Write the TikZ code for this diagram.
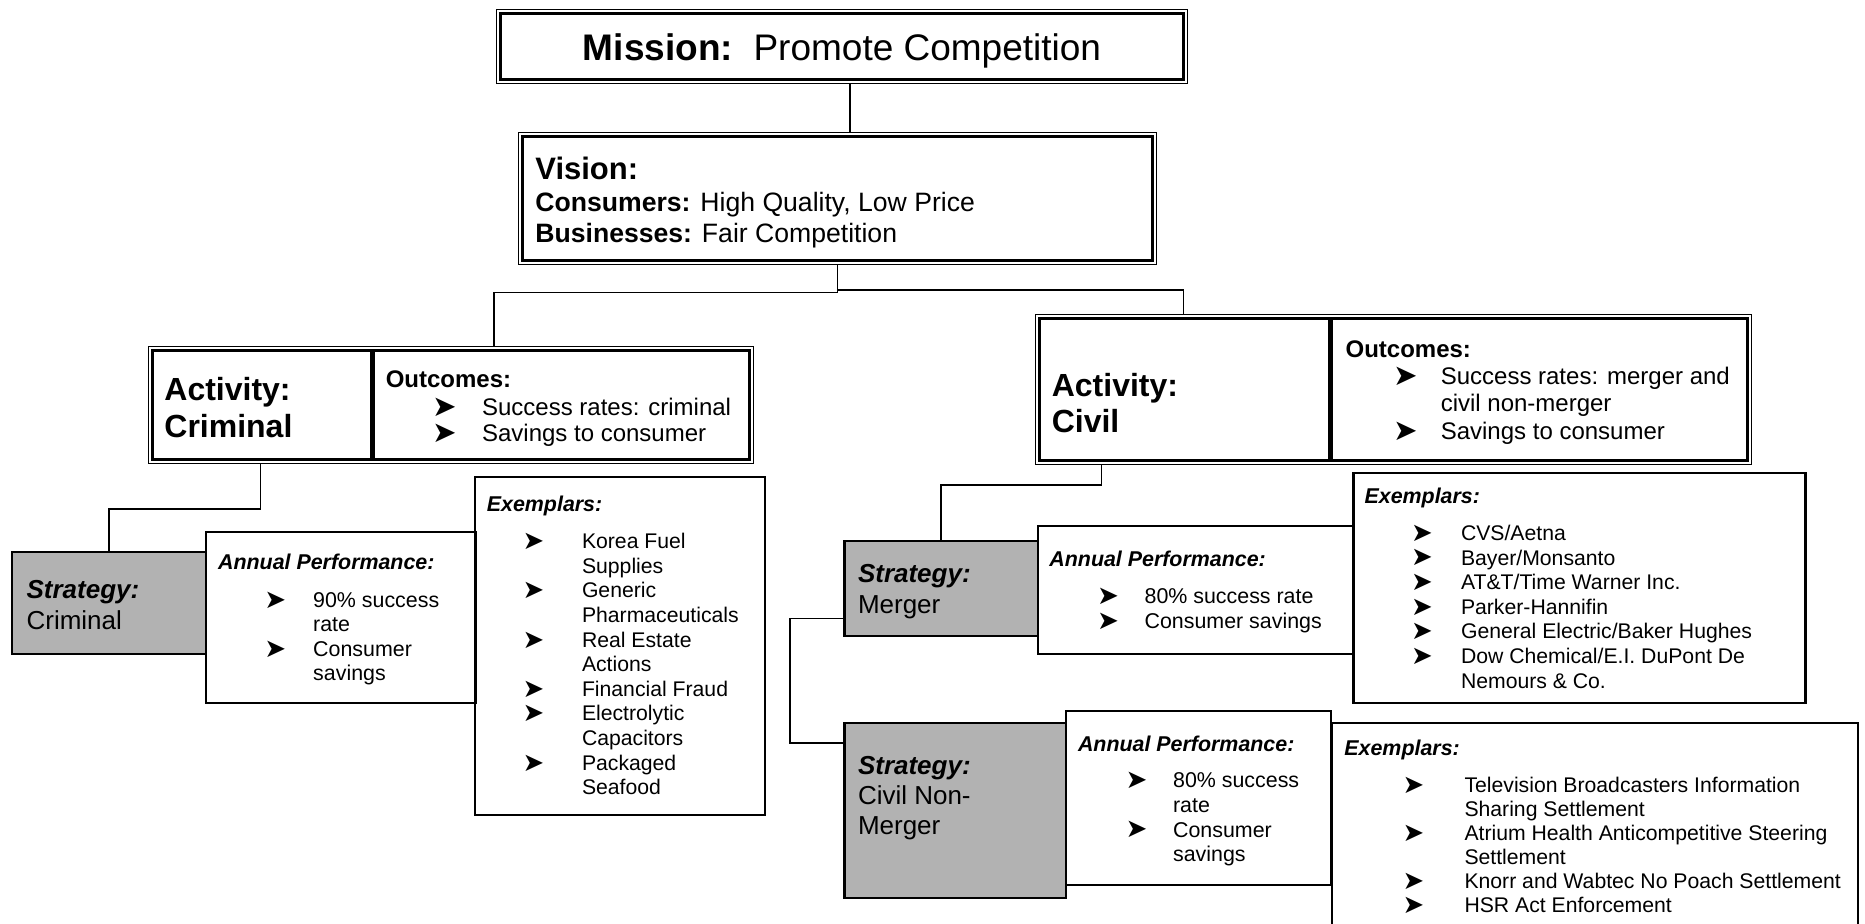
\documentclass[tikz,border=0pt]{standalone}
\usepackage{fontspec}
\usepackage{graphicx}
\setmainfont{Liberation Sans}
\newfontfamily\dvs{DejaVu Sans}
\usetikzlibrary{fit,calc}
\definecolor{stratgray}{RGB}{178,178,178}
\newcommand\fs[2]{\fontsize{#1}{#2}\selectfont}
\newcommand\bul[1]{\leavevmode\llap{\makebox[#1][l]{\raisebox{-0.04em}{\scalebox{1.22}{\dvs ➤}}}}}
\tikzset{
  cell/.style={inner sep=0pt},
  simplebox/.style={draw, line width=1.1pt, inner sep=0pt},
  stratbox/.style={draw, fill=stratgray, line width=1.1pt, inner sep=0pt},
  thinout/.style={line width=0.5pt},
  thickin/.style={line width=1.8pt},
  sepline/.style={line width=2.4pt},
  conn/.style={line width=0.9pt},
  txt/.style={anchor=base west, inner sep=0pt},
}
\begin{document}
\begin{tikzpicture}[x=0.5pt,y=-0.5pt]
\useasboundingbox (0,0) rectangle (1865,924);
\clip (0,0) rectangle (1865,924);

% ---------- boxes ----------
\node[cell, fit={(497,10) (1187,83)}] (mission) {};
\draw[thinout] (mission.north west) rectangle (mission.south east);
\draw[thickin] ($(mission.north west)+(4,4)$) rectangle ($(mission.south east)+(-4,-4)$);

\node[cell, fit={(519,133) (1156,264)}] (vision) {};
\draw[thinout] (vision.north west) rectangle (vision.south east);
\draw[thickin] ($(vision.north west)+(4,4)$) rectangle ($(vision.south east)+(-4,-4)$);

\node[cell, fit={(149,347) (372,463)}] (actcrim) {};
\node[cell, fit={(372,347) (753,463)}] (outcrim) {};
\draw[thinout] (actcrim.north west) rectangle (outcrim.south east);
\draw[thickin] ($(actcrim.north west)+(4,4)$) rectangle ($(outcrim.south east)+(-4,-4)$);
\draw[sepline] ($(actcrim.north east)+(0,4)$) -- ($(actcrim.south east)+(0,-4)$);

\node[cell, fit={(1036,315) (1330,464)}] (actcivil) {};
\node[cell, fit={(1330,315) (1751,464)}] (outcivil) {};
\draw[thinout] (actcivil.north west) rectangle (outcivil.south east);
\draw[thickin] ($(actcivil.north west)+(4,4)$) rectangle ($(outcivil.south east)+(-4,-4)$);
\draw[sepline] ($(actcivil.north east)+(0,4)$) -- ($(actcivil.south east)+(0,-4)$);

\node[stratbox, fit={(12,552) (206,654)}] (stratcrim) {};
\node[simplebox, fit={(206,532) (476,703)}] (apcrim) {};
\node[simplebox, fit={(475,477) (765,815)}] (excrim) {};

\node[stratbox, fit={(844.5,541) (1038,636)}] (stratmerger) {};
\node[simplebox, fit={(1038,526) (1353.5,654)}] (apmerger) {};
\node[simplebox, fit={(1353.5,473) (1805.5,703)}] (exmerger) {};

\node[stratbox, fit={(844.5,723) (1066,898)}] (stratcnm) {};
\node[simplebox, fit={(1066,711) (1331,885)}] (apcnm) {};
\node[simplebox, fit={(1332,723) (1858,960)}] (excnm) {};

% ---------- connectors ----------
\coordinate (m1) at (850,0);
\draw[conn] (mission.south -| m1) -- (vision.north -| m1);
\coordinate (jl) at (494,292.6);
\coordinate (jr) at (1183.5,290.2);
\draw[conn] (vision.south) -- (vision.south |- jl) -- (jl) -- (outcrim.north -| jl);
\draw[conn] (vision.south |- jr) -- (jr) -- (actcivil.north -| jr);
\draw[conn] (actcrim.south) -- ++(0,46) -| (stratcrim.north);
\coordinate (c1) at (1101.4,485.3);
\draw[conn] (actcivil.south -| c1) -- (c1) -| (stratmerger.north);
\coordinate (c2) at (789.8,618.5);
\coordinate (c3) at (789.8,743.4);
\draw[conn] (stratmerger.west |- c2) -- (c2) -- (c3) -- (stratcnm.west |- c3);

% ---------- texts ----------
\node[anchor=base, inner sep=0pt] (missiontxt) at (842,61) {\fs{18.5}{22}\textbf{Mission:}\ \ Promote Competition};
\node[txt] (visiontitle) at (535,180) {\fs{15.5}{18}\textbf{Vision:}};
\node[txt] (visionbody) at (535,211.8) {\parbox[t]{320pt}{\fs{13.3}{15.4}\textbf{Consumers:} High Quality, Low Price\\\textbf{Businesses:} Fair Competition}};

\node[txt] (actcrimtxt) at (164,400.5) {\parbox[t]{100pt}{\fs{16}{18.4}\bfseries Activity:\\Criminal}};
\node[txt] (outcrimtitle) at (385.4,388) {\fs{12}{13}\bfseries Outcomes:};
\node[txt] (outcrimtxt) at (481.7,415.4) {\parbox[t]{160pt}{\fs{12}{13.1}\bul{25pt}Success rates: criminal\\\bul{25pt}Savings to consumer}};

\node[txt] (actciviltxt) at (1051.4,396.9) {\parbox[t]{100pt}{\fs{16}{17.8}\bfseries Activity:\\Civil}};
\node[txt] (outciviltitle) at (1345.2,357.1) {\fs{12}{13}\bfseries Outcomes:};
\node[txt] (outciviltxt) at (1440.4,384.5) {\parbox[t]{160pt}{\fs{12}{13.7}\bul{23.8pt}Success rates: merger and\\civil non-merger\\\bul{23.8pt}Savings to consumer}};

\node[txt] (stratcrimtxt) at (26.2,598.2) {\parbox[t]{90pt}{\fs{13}{15.45}\textbf{\textit{Strategy:}}\\Criminal}};
\node[txt] (apcrimtitle) at (217.7,569.1) {\fs{10.7}{12.3}\bfseries\itshape Annual Performance:};
\node[txt] (apcrimtxt) at (312.8,607.2) {\parbox[t]{90pt}{\fs{10.7}{12.3}\bul{24.4pt}90\% success\\rate\\\bul{24.4pt}Consumer\\savings}};
\node[txt] (excrimtitle) at (486.5,511.9) {\fs{10.7}{12.3}\bfseries\itshape Exemplars:};
\node[txt] (excrimtxt) at (581.6,548.8) {\parbox[t]{100pt}{\fs{10.6}{12.3}\bul{29.7pt}Korea Fuel\\Supplies\\\bul{29.7pt}Generic\\Pharmaceuticals\\\bul{29.7pt}Real Estate\\Actions\\\bul{29.7pt}Financial Fraud\\\bul{29.7pt}Electrolytic\\Capacitors\\\bul{29.7pt}Packaged\\Seafood}};

\node[txt] (stratmergertxt) at (857.6,582.7) {\parbox[t]{90pt}{\fs{13}{15.45}\textbf{\textit{Strategy:}}\\Merger}};
\node[txt] (apmergertitle) at (1049,566.7) {\fs{10.7}{12.3}\bfseries\itshape Annual Performance:};
\node[txt] (apmergertxt) at (1144.2,603.6) {\parbox[t]{100pt}{\fs{10.7}{12.5}\bul{23.8pt}80\% success rate\\\bul{23.8pt}Consumer savings}};
\node[txt] (exmergertitle) at (1364.2,503.6) {\fs{10.7}{12.3}\bfseries\itshape Exemplars:};
\node[txt] (exmergertxt) at (1460.6,540.5) {\parbox[t]{170pt}{\fs{10.6}{12.3}\bul{25pt}CVS/Aetna\\\bul{25pt}Bayer/Monsanto\\\bul{25pt}AT\&T/Time Warner Inc.\\\bul{25pt}Parker-Hannifin\\\bul{25pt}General Electric/Baker Hughes\\\bul{25pt}Dow Chemical/E.I. DuPont De\\Nemours \& Co.}};

\node[txt] (stratcnmtxt) at (857.6,774.2) {\parbox[t]{90pt}{\fs{13}{15.15}\textbf{\textit{Strategy:}}\\Civil Non-\\Merger}};
\node[txt] (apcnmtitle) at (1077.6,751.1) {\fs{10.7}{12.3}\bfseries\itshape Annual Performance:};
\node[txt] (apcnmtxt) at (1172.7,787.9) {\parbox[t]{90pt}{\fs{10.7}{12.3}\bul{23.8pt}80\% success\\rate\\\bul{23.8pt}Consumer\\savings}};
\node[txt] (excnmtitle) at (1344,755.7) {\fs{10.7}{12.3}\bfseries\itshape Exemplars:};
\node[txt] (excnmtxt) at (1464.1,792.6) {\parbox[t]{200pt}{\fs{10.6}{12}\bul{30.9pt}Television Broadcasters Information\\Sharing Settlement\\\bul{30.9pt}Atrium Health Anticompetitive Steering\\Settlement\\\bul{30.9pt}Knorr and Wabtec No Poach Settlement\\\bul{30.9pt}HSR Act Enforcement}};
\end{tikzpicture}
\end{document}
